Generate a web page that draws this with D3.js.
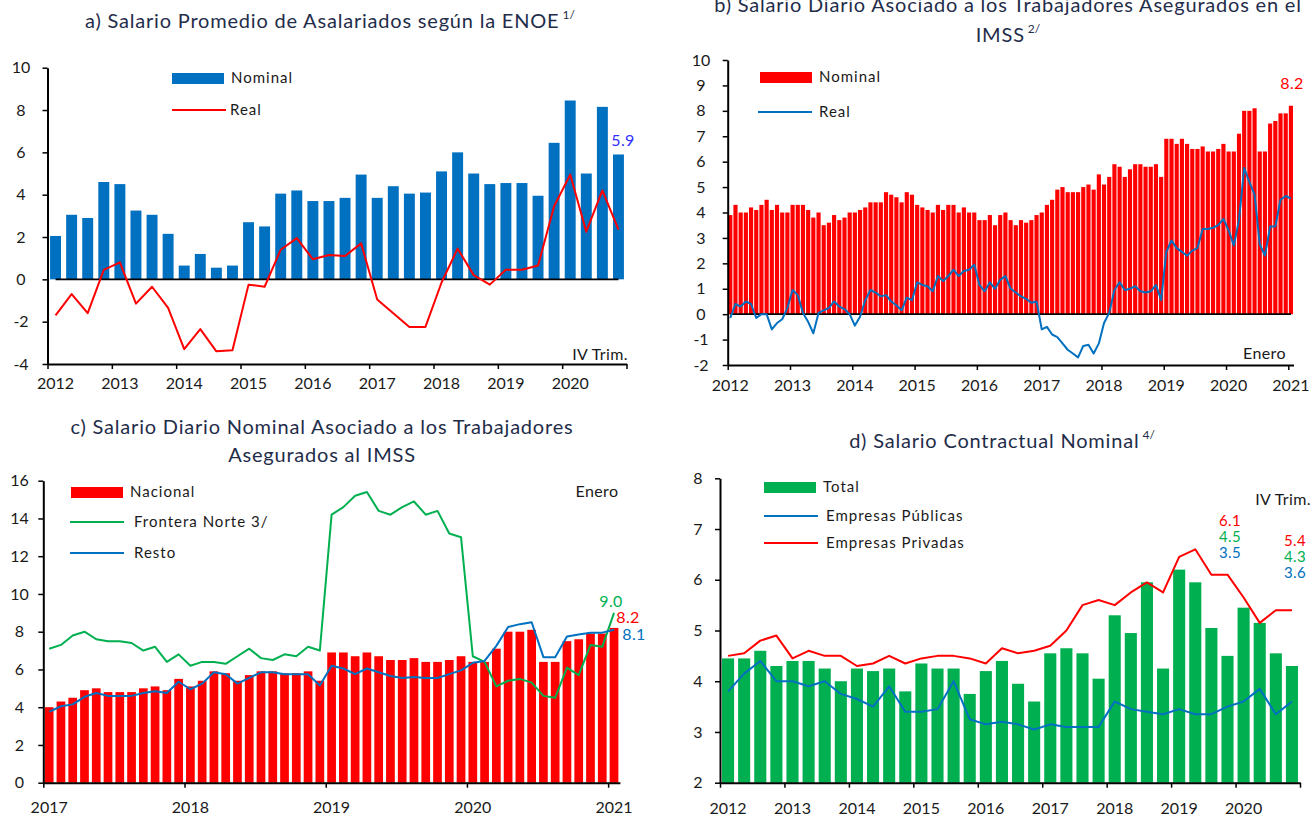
<!DOCTYPE html>
<html>
<head>
<meta charset="utf-8">
<script src="https://cdn.jsdelivr.net/npm/d3@7"></script>
<style>
  body { margin: 0; background: #ffffff; }
  svg { display: block; font-family: Lato, "Open Sans", sans-serif; }
</style>
</head>
<body>
<svg id="chart" width="1314" height="816"></svg>
<script>
// ---------- categories ----------
const quarterYears = [2012, 2013, 2014, 2015, 2016, 2017, 2018, 2019, 2020];
const quarterCats = quarterYears.flatMap(y => ["I", "II", "III", "IV"].map(q => `${y}-${q}`));
const monthYears = [2012, 2013, 2014, 2015, 2016, 2017, 2018, 2019, 2020, 2021];
const monthCats = monthYears.flatMap(y => d3.range(1, 13).map(m => `${y}-${m}`)).slice(0, 109); // Jan 2012 .. Jan 2021
const monthCatsC = monthCats.slice(60);                                                          // Jan 2017 .. Jan 2021

// ---------- tick labels ----------
const yearLabelsA = ["2012", "2013", "2014", "2015", "2016", "2017", "2018", "2019", "2020"];
const yearLabelsB = ["2012", "2013", "2014", "2015", "2016", "2017", "2018", "2019", "2020", "2021"];
const yearLabelsC = ["2017", "2018", "2019", "2020", "2021"];
const yearLabelsD = ["2012", "2013", "2014", "2015", "2016", "2017", "2018", "2019", "2020"];
const yTicksA = [-4, -2, 0, 2, 4, 6, 8, 10];
const yTicksB = [-2, -1, 0, 1, 2, 3, 4, 5, 6, 7, 8, 9, 10];
const yTicksC = [0, 2, 4, 6, 8, 10, 12, 14, 16];
const yTicksD = [2, 3, 4, 5, 6, 7, 8];

// ---------- a) ENOE, quarterly, annual % change ----------
const enoeNominal = [2.05, 3.05, 2.9, 4.6, 4.5, 3.25, 3.05, 2.15, 0.65, 1.2, 0.55, 0.65,
                     2.7, 2.5, 4.05, 4.2, 3.7, 3.7, 3.85, 4.95, 3.85, 4.4, 4.05, 4.1,
                     5.1, 6.0, 5.0, 4.5, 4.55, 4.55, 3.95, 6.45, 8.45, 5.0, 8.15, 5.9];
const enoeReal = [-1.7, -0.7, -1.6, 0.45, 0.8, -1.15, -0.35, -1.35, -3.3, -2.35, -3.4, -3.35,
                  -0.25, -0.35, 1.4, 1.95, 0.95, 1.15, 1.1, 1.7, -0.95, -1.6, -2.25, -2.25,
                  -0.15, 1.45, 0.2, -0.25, 0.45, 0.45, 0.65, 3.45, 4.95, 2.25, 4.2, 2.35];

// ---------- b) IMSS daily wage, monthly, annual % change ----------
const imssNominal = [
  3.9, 4.3, 4.0, 4.0, 4.2, 4.1, 4.3, 4.5, 4.1, 4.3, 4.0, 4.0,
  4.3, 4.3, 4.3, 4.1, 3.8, 4.0, 3.5, 3.6, 3.9, 3.7, 3.8, 4.0,
  4.0, 4.1, 4.2, 4.4, 4.4, 4.4, 4.8, 4.7, 4.6, 4.4, 4.8, 4.7,
  4.3, 4.2, 4.1, 4.0, 4.3, 4.1, 4.3, 4.3, 4.0, 4.2, 4.0, 4.0,
  3.7, 3.7, 3.9, 3.5, 3.9, 4.0, 3.7, 3.5, 3.7, 3.6, 3.7, 3.9,
  4.0, 4.3, 4.5, 4.9, 5.0, 4.8, 4.8, 4.8, 5.0, 5.1, 4.9, 5.5,
  5.1, 5.4, 5.9, 5.8, 5.4, 5.7, 5.9, 5.9, 5.8, 5.8, 5.9, 5.4,
  6.9, 6.9, 6.7, 6.9, 6.7, 6.5, 6.5, 6.6, 6.4, 6.4, 6.5, 6.7,
  6.4, 6.4, 7.1, 8.0, 8.0, 8.1, 6.4, 6.4, 7.5, 7.6, 7.9, 7.9,
  8.2];
const imssReal = [
  -0.15, 0.4, 0.3, 0.5, 0.4, -0.15, 0.0, 0.0, -0.6, -0.35, -0.2, 0.25,
  0.95, 0.75, 0.05, -0.3, -0.75, 0.05, 0.15, 0.25, 0.5, 0.3, 0.2, 0.0,
  -0.45, -0.1, 0.55, 0.95, 0.85, 0.7, 0.75, 0.5, 0.35, 0.15, 0.65, 0.55,
  1.25, 1.15, 1.1, 0.9, 1.5, 1.3, 1.5, 1.75, 1.5, 1.7, 1.75, 1.95,
  1.15, 0.9, 1.25, 1.0, 1.35, 1.5, 1.0, 0.85, 0.7, 0.6, 0.45, 0.5,
  -0.6, -0.5, -0.8, -0.9, -1.15, -1.4, -1.55, -1.7, -1.25, -1.2, -1.55, -1.15,
  -0.35, 0.05, 0.95, 1.25, 0.95, 1.0, 1.1, 0.9, 0.85, 0.9, 1.15, 0.55,
  2.45, 2.9, 2.6, 2.45, 2.3, 2.5, 2.6, 3.35, 3.35, 3.4, 3.5, 3.75,
  3.3, 2.7, 3.7, 5.75, 5.2, 4.7, 2.75, 2.3, 3.45, 3.45, 4.5, 4.65,
  4.55];

// ---------- c) IMSS nominal by region, monthly since 2017 ----------
const nacional = imssNominal.slice(60);
const fronteraNorte = [7.1, 7.3, 7.8, 8.0, 7.6, 7.5, 7.5, 7.4, 7.0, 7.2, 6.4, 6.8,
                       6.2, 6.4, 6.4, 6.3, 6.7, 7.1, 6.6, 6.5, 6.8, 6.7, 7.2, 7.0,
                       14.2, 14.6, 15.2, 15.4, 14.4, 14.2, 14.6, 14.9, 14.2, 14.4, 13.2, 13.0,
                       6.7, 6.4, 5.1, 5.4, 5.5, 5.3, 4.6, 4.5, 6.1, 5.7, 7.3, 7.2,
                       9.0];
const resto = [3.75, 4.05, 4.15, 4.55, 4.75, 4.6, 4.6, 4.6, 4.75, 4.85, 4.75, 5.35,
               4.95, 5.25, 5.85, 5.75, 5.25, 5.55, 5.85, 5.85, 5.75, 5.75, 5.75, 5.15,
               6.2, 6.05, 5.75, 6.05, 5.85, 5.65, 5.55, 5.6, 5.55, 5.55, 5.75, 5.95,
               6.35, 6.45, 7.25, 8.25, 8.4, 8.5, 6.65, 6.65, 7.75, 7.85, 7.95, 7.95,
               8.1];

// ---------- d) contractual wage, quarterly ----------
const contractualTotal = [4.45, 4.45, 4.6, 4.3, 4.4, 4.4, 4.25, 4.0, 4.25, 4.2, 4.25, 3.8,
                          4.35, 4.25, 4.25, 3.75, 4.2, 4.4, 3.95, 3.6, 4.55, 4.65, 4.55, 4.05,
                          5.3, 4.95, 5.95, 4.25, 6.2, 5.95, 5.05, 4.5, 5.45, 5.15, 4.55, 4.3];
const empresasPublicas = [3.8, 4.15, 4.4, 4.0, 4.0, 3.9, 4.0, 3.75, 3.65, 3.5, 3.9, 3.4,
                          3.4, 3.45, 4.0, 3.25, 3.15, 3.2, 3.15, 3.05, 3.15, 3.1, 3.1, 3.1,
                          3.6, 3.45, 3.4, 3.35, 3.45, 3.35, 3.35, 3.5, 3.6, 3.85, 3.35, 3.6];
const empresasPrivadas = [4.5, 4.55, 4.8, 4.9, 4.45, 4.6, 4.5, 4.5, 4.3, 4.35, 4.5, 4.35,
                          4.45, 4.5, 4.5, 4.45, 4.35, 4.65, 4.55, 4.6, 4.7, 5.0, 5.5, 5.6,
                          5.5, 5.75, 5.95, 5.75, 6.45, 6.6, 6.1, 6.1, 5.65, 5.15, 5.4, 5.4];

// ---------- styling ----------
const BLUE = "#0070c0", RED = "#ff0000", GREEN = "#00b050", LABEL_BLUE = "#2f2fff";
const TEXT = "#1a1a1a", TITLE = "#1f2d4a";
const TICK_FS = 16;
const fmt1 = d3.format(".1f");
const svg = d3.select("#chart");

function drawPanel(cfg) {
  const g = svg.append("g");
  const n = cfg.cats.length;
  const x = d3.scaleBand().domain(cfg.cats).range([cfg.x0, cfg.x1])
    .paddingInner(cfg.pad).paddingOuter(cfg.pad / 2);
  const pos = d3.scaleLinear().domain([0, n]).range([cfg.x0, cfg.x1]);
  const y = d3.scaleLinear().domain(cfg.yDomain).range([cfg.yBottom, cfg.yTop]);
  const cx = i => x(cfg.cats[i]) + x.bandwidth() / 2;

  // bars
  g.append("g").selectAll("rect").data(cfg.bars.values).join("rect")
    .attr("x", (d, i) => x(cfg.cats[i]))
    .attr("width", x.bandwidth())
    .attr("y", d => y(Math.max(d, cfg.base)))
    .attr("height", d => Math.abs(y(d) - y(cfg.base)))
    .attr("fill", cfg.bars.color);

  // zero reference line
  if (cfg.zeroLine) {
    g.append("line")
      .attr("x1", cx(0)).attr("x2", cx(n - 1))
      .attr("y1", y(0)).attr("y2", y(0))
      .attr("stroke", "#000").attr("stroke-width", 1.6);
  }

  // series lines
  cfg.lines.forEach(L => {
    g.append("path").datum(L.values)
      .attr("fill", "none").attr("stroke", L.color).attr("stroke-width", 2)
      .attr("stroke-linejoin", "round")
      .attr("d", d3.line().x((d, i) => cx(i)).y(d => y(d)));
  });

  // y axis
  const ya = g.append("g").attr("transform", `translate(${cfg.x0},0)`)
    .call(d3.axisLeft(y).tickValues(cfg.yTicks).tickSize(5).tickSizeOuter(0).tickFormat(d => String(d)));
  ya.select(".domain").attr("stroke", "#000").attr("stroke-width", 2);
  ya.selectAll(".tick line").attr("stroke", "#000").attr("stroke-width", 1.5);
  ya.selectAll(".tick text")
    .attr("x", cfg.yLabelX - cfg.x0).attr("text-anchor", "middle")
    .attr("font-size", TICK_FS).attr("font-family", "Lato, sans-serif").attr("fill", TEXT);

  // x axis: ticks on year boundaries, labels on the first period of each year
  const tickIdx = d3.range(0, n + 1, cfg.perYear);
  const xa = g.append("g").attr("transform", `translate(0,${cfg.yBottom})`)
    .call(d3.axisBottom(pos).tickValues(tickIdx).tickSize(5).tickSizeOuter(0).tickFormat(""));
  xa.select(".domain").attr("stroke", "#000").attr("stroke-width", 2);
  xa.selectAll(".tick line").attr("stroke", "#000").attr("stroke-width", 1.5);

  g.append("g").selectAll("text").data(cfg.yearLabels).join("text")
    .attr("x", (d, i) => pos(i * cfg.perYear + 0.5))
    .attr("y", cfg.yearLabelY)
    .attr("text-anchor", "middle").attr("font-size", TICK_FS).attr("fill", TEXT)
    .text(d => d);

  return { x, y, cx, g };
}

function title(lines, cxPos, baseline, sup, lineGap) {
  lines.forEach((t, i) => {
    const txt = svg.append("text")
      .attr("x", cxPos).attr("y", baseline + i * lineGap)
      .attr("text-anchor", "middle").attr("font-size", 20).attr("fill", TITLE)
      .attr("letter-spacing", 0.8);
    txt.append("tspan").text(t);
    if (sup && i === lines.length - 1) {
      txt.append("tspan").attr("font-size", 12).attr("dy", -9).attr("letter-spacing", 0).text(" " + sup);
    }
  });
}

function legendBar(x, y, color, label) {
  svg.append("rect").attr("x", x).attr("y", y).attr("width", 52).attr("height", 11).attr("fill", color);
  svg.append("text").attr("x", x + 59).attr("y", y + 10).attr("font-size", 15)
    .attr("letter-spacing", 1).attr("fill", TEXT).text(label);
}
function legendLine(x, y, color, label, gap) {
  svg.append("line").attr("x1", x).attr("x2", x + 54).attr("y1", y).attr("y2", y)
    .attr("stroke", color).attr("stroke-width", 2);
  svg.append("text").attr("x", x + (gap || 60)).attr("y", y + 5).attr("font-size", 15)
    .attr("letter-spacing", 1).attr("fill", TEXT).text(label);
}
function note(x, y, txt, color, anchor, size) {
  svg.append("text").attr("x", x).attr("y", y).attr("font-size", size || 16)
    .attr("text-anchor", anchor || "middle").attr("letter-spacing", 0.4).attr("fill", color).text(txt);
}

// ===== a) =====
title(["a) Salario Promedio de Asalariados según la ENOE"], 330, 28, "1/", 0);
drawPanel({
  cats: quarterCats, x0: 47.5, x1: 626.5, pad: 0.32, perYear: 4,
  yDomain: [-4, 10], yTop: 67.7, yBottom: 364, yTicks: yTicksA, yLabelX: 21,
  base: 0, zeroLine: true,
  bars: { values: enoeNominal, color: BLUE },
  lines: [{ values: enoeReal, color: RED }],
  yearLabels: yearLabelsA, yearLabelY: 389
});
legendBar(172, 73, BLUE, "Nominal");
legendLine(172, 110, RED, "Real", 58);
note(623, 146, fmt1(enoeNominal[enoeNominal.length - 1]), LABEL_BLUE);
note(628, 360, "IV Trim.", TEXT, "end");

// ===== b) =====
title(["b) Salario Diario Asociado a los Trabajadores Asegurados en el", "IMSS"], 1008, 12, "2/", 30);
drawPanel({
  cats: monthCats, x0: 727.7, x1: 1293.5, pad: 0.2, perYear: 12,
  yDomain: [-2, 10], yTop: 60, yBottom: 365, yTicks: yTicksB, yLabelX: 701,
  base: 0, zeroLine: true,
  bars: { values: imssNominal, color: RED },
  lines: [{ values: imssReal, color: BLUE }],
  yearLabels: yearLabelsB, yearLabelY: 391
});
legendBar(760, 72, RED, "Nominal");
legendLine(758, 112, BLUE, "Real", 61);
note(1292, 89, fmt1(imssNominal[imssNominal.length - 1]), RED);
note(1286, 359, "Enero", TEXT, "end");

// ===== c) =====
title(["c) Salario Diario Nominal Asociado a los Trabajadores", "Asegurados al IMSS"], 322, 434, null, 28);
drawPanel({
  cats: monthCatsC, x0: 43.3, x1: 619.9, pad: 0.26, perYear: 12,
  yDomain: [0, 16], yTop: 480.7, yBottom: 782.7, yTicks: yTicksC, yLabelX: 19.5,
  base: 0, zeroLine: false,
  bars: { values: nacional, color: RED },
  lines: [{ values: fronteraNorte, color: GREEN }, { values: resto, color: BLUE }],
  yearLabels: yearLabelsC, yearLabelY: 813
});
legendBar(71, 487, RED, "Nacional");
legendLine(70, 522, GREEN, "Frontera Norte 3/", 64);
legendLine(70, 553, BLUE, "Resto", 64);
note(597, 497, "Enero", TEXT);
note(611, 607, fmt1(fronteraNorte[fronteraNorte.length - 1]), GREEN);
note(628, 623, fmt1(nacional[nacional.length - 1]), RED);
note(634, 640, fmt1(resto[resto.length - 1]), BLUE);

// ===== d) =====
title(["d) Salario Contractual Nominal"], 1002, 448, "4/", 0);
drawPanel({
  cats: quarterCats, x0: 720, x1: 1300, pad: 0.25, perYear: 4,
  yDomain: [2, 8], yTop: 478.3, yBottom: 782.7, yTicks: yTicksD, yLabelX: 698,
  base: 2, zeroLine: false,
  bars: { values: contractualTotal, color: GREEN },
  lines: [{ values: empresasPublicas, color: BLUE }, { values: empresasPrivadas, color: RED }],
  yearLabels: yearLabelsD, yearLabelY: 814
});
legendBar(764, 482, GREEN, "Total");
legendLine(764, 516, BLUE, "Empresas Públicas", 62);
legendLine(764, 543, RED, "Empresas Privadas", 62);
note(1311, 505, "IV Trim.", TEXT, "end");
const iPrev = 31, iLast = 35; // 2019 IV and 2020 IV
note(1230, 526, fmt1(empresasPrivadas[iPrev]), RED, "middle", 15);
note(1230, 542, fmt1(contractualTotal[iPrev]), GREEN, "middle", 15);
note(1230, 558, fmt1(empresasPublicas[iPrev]), BLUE, "middle", 15);
note(1295, 546, fmt1(empresasPrivadas[iLast]), RED, "middle", 15);
note(1295, 562, fmt1(contractualTotal[iLast]), GREEN, "middle", 15);
note(1295, 578, fmt1(empresasPublicas[iLast]), BLUE, "middle", 15);
</script>
</body>
</html>
